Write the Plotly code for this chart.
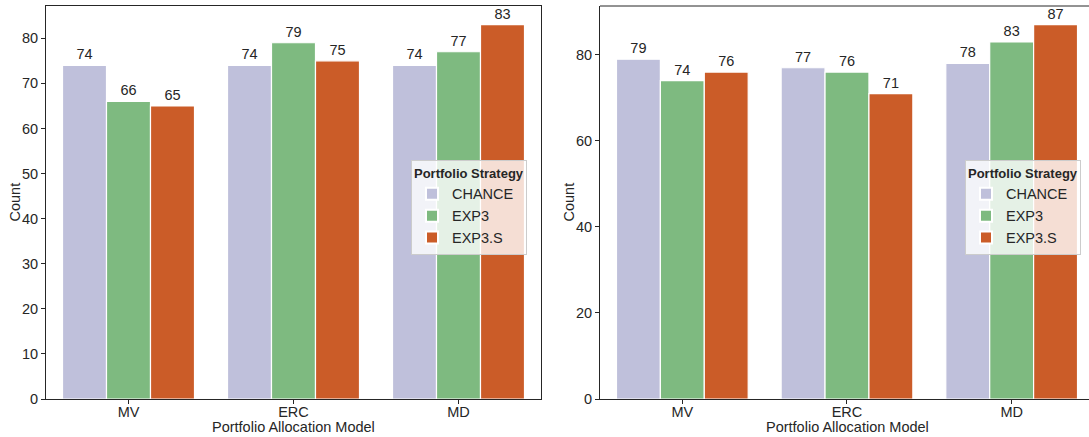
import plotly.graph_objects as go

# Portfolio allocation models on the x axis
models = ["MV", "ERC", "MD"]
strategies = ["CHANCE", "EXP3", "EXP3.S"]

# Counts per strategy, left panel
left_chance = [74, 74, 74]
left_exp3 = [66, 79, 77]
left_exp3s = [65, 75, 83]

# Counts per strategy, right panel
right_chance = [79, 77, 78]
right_exp3 = [74, 76, 83]
right_exp3s = [76, 71, 87]

colors = ["#bfc0db", "#7eba80", "#cb5c28"]
ink = "#262626"
font_family = "Liberation Sans, Arial, sans-serif"
fs = 14.5

x_title = "Portfolio Allocation Model"
y_title = "Count"

W, H = 1089, 437

def px_x(p):
    return p / W

def px_y(p):
    return 1 - p / H

fig = go.Figure()

panels = [
    ("x", "y", "legend", [left_chance, left_exp3, left_exp3s]),
    ("x2", "y2", "legend2", [right_chance, right_exp3, right_exp3s]),
]
for xa, ya, lg, series in panels:
    for name, vals, col in zip(strategies, series, colors):
        fig.add_trace(go.Bar(
            x=models, y=vals, name=name, xaxis=xa, yaxis=ya, legend=lg,
            marker=dict(color=col, line=dict(color="white", width=1.2)),
            text=vals, texttemplate="%{text}", textposition="outside",
            textfont=dict(size=fs, color=ink, family=font_family),
            cliponaxis=False, offsetgroup=name,
        ))

axis_common = dict(
    showline=True, linecolor=ink, linewidth=1, ticks="outside",
    ticklen=4, tickcolor=ink, tickfont=dict(size=fs, color=ink),
    showgrid=False, zeroline=False, automargin=False,
)

left_dom = [px_x(46), px_x(541)]
right_dom = [px_x(600), 1]
y_dom = [px_y(399), px_y(6)]
panel_w = 495 / W

fig.update_layout(
    width=W, height=H,
    margin=dict(l=0, r=0, t=0, b=0),
    plot_bgcolor="white", paper_bgcolor="white",
    font=dict(family=font_family, size=fs, color=ink),
    barmode="group", bargap=0.2, bargroupgap=0,
    xaxis=dict(domain=left_dom, range=[-0.5, 2.5], mirror=True,
               anchor="y", ticklabelstandoff=-4, **axis_common),
    yaxis=dict(domain=y_dom, range=[0, 87.15], mirror=True,
               dtick=10, anchor="x", **axis_common),
    xaxis2=dict(domain=right_dom, range=[-0.5, 2.5 - 5 / 165],
                anchor="y2", ticklabelstandoff=-4, **axis_common),
    yaxis2=dict(domain=y_dom, range=[0, 91.35], dtick=20,
                anchor="x2", **axis_common),
)

# Axis titles
for x0, ty_x in [(px_x(46), 15), (px_x(600), 569)]:
    fig.add_annotation(text=x_title, xref="paper", yref="paper",
                       x=x0 + panel_w / 2, y=px_y(427), showarrow=False,
                       font=dict(size=fs, color=ink),
                       xanchor="center", yanchor="middle")
    fig.add_annotation(text=y_title, xref="paper", yref="paper",
                       x=px_x(ty_x), y=(y_dom[0] + y_dom[1]) / 2,
                       textangle=-90, showarrow=False,
                       font=dict(size=fs, color=ink),
                       xanchor="center", yanchor="middle")

legend_style = dict(
    title=dict(text="<b>Portfolio Strategy</b>", font=dict(size=13, color=ink)),
    bgcolor="rgba(255,255,255,0.8)", bordercolor="#cccccc", borderwidth=1,
    font=dict(size=fs, color=ink), xanchor="left", yanchor="top",
    tracegroupgap=0, itemsizing="constant",
)
fig.update_layout(
    legend=dict(x=px_x(411), y=px_y(160), **legend_style),
    legend2=dict(x=px_x(965), y=px_y(160), **legend_style),
)

# Top spine of the right panel (its right edge runs past the page)
fig.add_shape(type="line", xref="x2 domain", yref="y2 domain",
              x0=0, x1=1, y0=1, y1=1, line=dict(color=ink, width=1))

fig.write_html("out.html")
